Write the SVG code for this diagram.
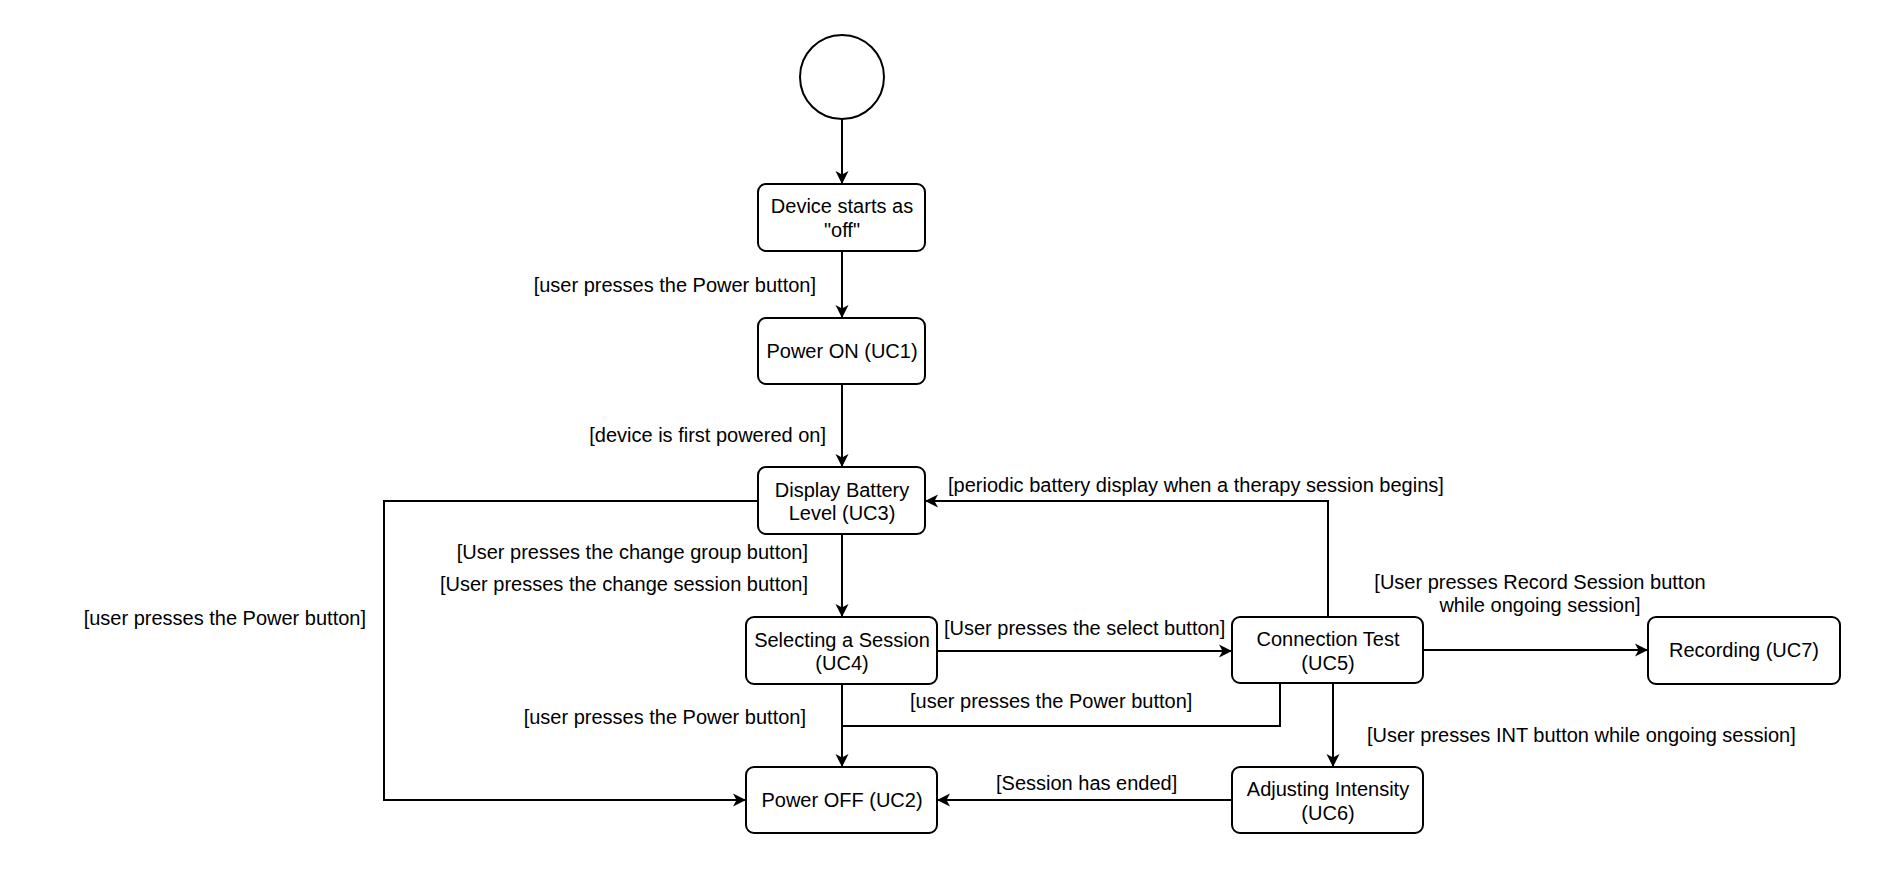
<svg xmlns="http://www.w3.org/2000/svg" width="1884" height="874" viewBox="0 0 1884 874">
<style>
.n{fill:#fff;stroke:#000;stroke-width:2}
.t{font-family:"Liberation Sans",Arial,sans-serif;font-size:20px;fill:#000}
.c{text-anchor:middle}
.e{text-anchor:end}
.l{fill:none;stroke:#000;stroke-width:2}
</style>
<defs>
<marker id="arr" markerUnits="userSpaceOnUse" markerWidth="13" markerHeight="14" viewBox="0 0 13 14" refX="12" refY="7" orient="auto">
<path d="M0,0.5 L13,7 L0,13.5 L3.5,7 z" fill="#000"/>
</marker>
</defs>
<rect width="1884" height="874" fill="#fff"/>
<g id="connectors">
<path class="l" d="M842,119 V183" marker-end="url(#arr)"/>
<path class="l" d="M842,251 V317" marker-end="url(#arr)"/>
<path class="l" d="M842,384 V466" marker-end="url(#arr)"/>
<path class="l" d="M842,534 V616" marker-end="url(#arr)"/>
<path class="l" d="M758,501 H384 V800 H745" marker-end="url(#arr)"/>
<path class="l" d="M842,684 V766" marker-end="url(#arr)"/>
<path class="l" d="M937,651 H1231" marker-end="url(#arr)"/>
<path class="l" d="M1280,683 V726 H842"/>
<path class="l" d="M1328,617 V501 H926" marker-end="url(#arr)"/>
<path class="l" d="M1423,650 H1647" marker-end="url(#arr)"/>
<path class="l" d="M1333,683 V766" marker-end="url(#arr)"/>
<path class="l" d="M1232,800 H938" marker-end="url(#arr)"/>
<text class="t e" x="816" y="292">[user presses the Power button]</text>
<text class="t e" x="826" y="442">[device is first powered on]</text>
<text class="t e" x="808" y="559">[User presses the change group button]</text>
<text class="t e" x="808" y="591">[User presses the change session button]</text>
<text class="t e" x="366" y="625">[user presses the Power button]</text>
<text class="t e" x="806" y="724">[user presses the Power button]</text>
<text class="t" x="910" y="708">[user presses the Power button]</text>
<text class="t" x="944" y="635">[User presses the select button]</text>
<text class="t" x="948" y="492">[periodic battery display when a therapy session begins]</text>
<text class="t" x="996" y="790">[Session has ended]</text>
<text class="t" x="1367" y="742">[User presses INT button while ongoing session]</text>
<text class="t c" x="1540" y="589">[User presses Record Session button</text>
<text class="t c" x="1540" y="612">while ongoing session]</text>
</g>
<g id="start"><circle class="n" cx="842" cy="77" r="42"/></g>
<g id="device"><rect class="n" x="758" y="184" width="167" height="67" rx="8"/><text class="t c" x="842" y="213">Device starts as</text><text class="t c" x="842" y="237">"off"</text></g>
<g id="powerOn"><rect class="n" x="758" y="318" width="167" height="66" rx="8"/><text class="t c" x="842" y="358">Power ON (UC1)</text></g>
<g id="battery"><rect class="n" x="758" y="467" width="167" height="67" rx="8"/><text class="t c" x="842" y="497">Display Battery</text><text class="t c" x="842" y="520">Level (UC3)</text></g>
<g id="selecting"><rect class="n" x="746" y="617" width="191" height="67" rx="8"/><text class="t c" x="842" y="647">Selecting a Session</text><text class="t c" x="842" y="670">(UC4)</text></g>
<g id="powerOff"><rect class="n" x="746" y="767" width="191" height="66" rx="8"/><text class="t c" x="842" y="807">Power OFF (UC2)</text></g>
<g id="connTest"><rect class="n" x="1232" y="617" width="191" height="66" rx="8"/><text class="t c" x="1328" y="646">Connection Test</text><text class="t c" x="1328" y="670">(UC5)</text></g>
<g id="adjusting"><rect class="n" x="1232" y="767" width="191" height="66" rx="8"/><text class="t c" x="1328" y="796">Adjusting Intensity</text><text class="t c" x="1328" y="820">(UC6)</text></g>
<g id="recording"><rect class="n" x="1648" y="617" width="192" height="67" rx="8"/><text class="t c" x="1744" y="657">Recording (UC7)</text></g>
</svg>
